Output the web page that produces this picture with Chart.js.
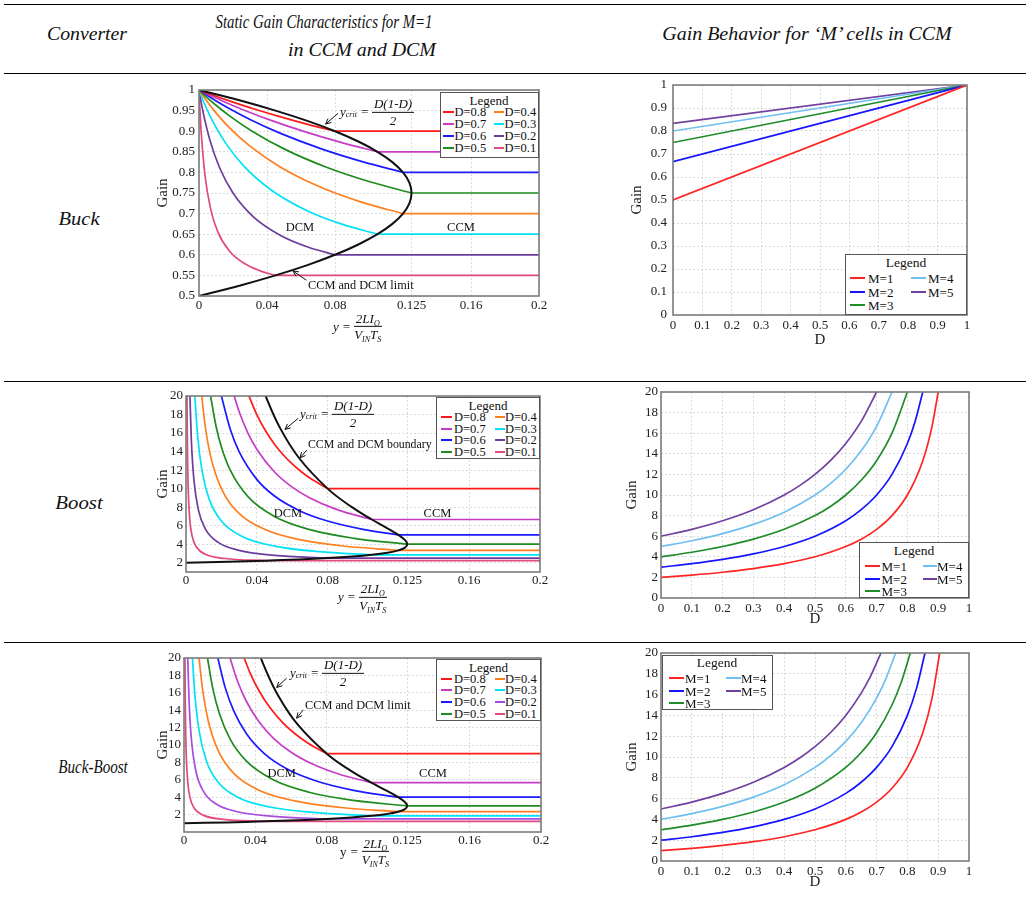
<!DOCTYPE html>
<html><head><meta charset="utf-8">
<script src="https://cdn.jsdelivr.net/npm/chart.js@4.4.1/dist/chart.umd.min.js"></script>
<style>
body{margin:0;background:#fff;}
#page{position:relative;width:1029px;height:904px;overflow:hidden;font-family:'Liberation Serif','Times New Roman',serif;color:#111;background:#fff;}
.hl{position:absolute;left:4px;width:1022px;height:0;border-top:1.4px solid #000;}
.hd{position:absolute;font-style:italic;font-size:19px;white-space:nowrap;transform:translate(-50%,-50%);}
canvas{position:absolute;}
.lg{position:absolute;background:#fff;border:1.3px solid #555;box-sizing:border-box;font-size:13px;}
.lg .tt{position:absolute;left:0;right:0;text-align:center;transform:translateY(-50%);line-height:1;}
.lg .ln{position:absolute;height:2px;transform:translateY(-50%);}
.lg .tx{position:absolute;transform:translateY(-50%);line-height:1;white-space:nowrap;}
.an{position:absolute;white-space:nowrap;font-size:12.3px;line-height:1;transform:translateY(-50%);}
.anc{position:absolute;white-space:nowrap;font-size:12.5px;line-height:1;transform:translate(-50%,-50%);}
.f{position:absolute;display:flex;align-items:center;white-space:nowrap;font-style:italic;font-size:13px;transform:translateY(-50%);line-height:1.05;}
.fr{display:inline-flex;flex-direction:column;align-items:center;margin-left:3px;}
.fr>span:first-child{border-bottom:1px solid #111;padding:0 2px 1px 2px;}
.fr>span:last-child{padding-top:1px;}
.sb{font-size:8px;position:relative;top:3px;}
</style>
</head><body>
<div id="page">
<div class="hl" style="top:4px"></div>
<div class="hl" style="top:73px"></div>
<div class="hl" style="top:381px"></div>
<div class="hl" style="top:642px"></div>
<div class="hd" data-w="80" style="left:87px;top:34px">Converter</div>
<div class="hd" data-w="217" style="left:323.5px;top:22px">Static Gain Characteristics for M=1</div>
<div class="hd" data-w="148" style="left:362px;top:50px">in CCM and DCM</div>
<div class="hd" data-w="289" style="left:806.5px;top:34px">Gain Behavior for ‘M’ cells in CCM</div>
<div class="hd" data-w="41" style="left:78.5px;top:219px">Buck</div>
<div class="hd" data-w="47" style="left:78.5px;top:503px">Boost</div>
<div class="hd" data-w="70" style="left:92.5px;top:767px">Buck-Boost</div>
</div>
<script>
// ---------- labels, ticks, colours ----------
const dLabels = ['D=0.8','D=0.7','D=0.6','D=0.5','D=0.4','D=0.3','D=0.2','D=0.1'];
const mLabels = ['M=1','M=2','M=3','M=4','M=5'];
const dColors = ['#ff1a1a','#c63cc8','#1a1aff','#1f8c1f','#ff7f1f','#00e2f5','#6c3d9c','#e2497c'];
const dColorsBB = ['#ff1a1a','#c63cc8','#1a1aff','#1f8c1f','#ff7f1f','#00e2f5','#a84be0','#e2497c'];
const mColors = ['#ff2424','#1515ff','#1f8c2a','#6fc0f0','#7040a0'];
const xTicksLeft = [0,0.04,0.08,0.125,0.16,0.2];
const yTicksBuckLeft = [0.5,0.55,0.6,0.65,0.7,0.75,0.8,0.85,0.9,0.95,1];
const yTicksGainLeft = [2,4,6,8,10,12,14,16,18,20];
const xTicksRight = [0,0.1,0.2,0.3,0.4,0.5,0.6,0.7,0.8,0.9,1];
const yTicksBuckRight = [0,0.1,0.2,0.3,0.4,0.5,0.6,0.7,0.8,0.9,1];
const yTicksGainRight = [0,2,4,6,8,10,12,14,16,18,20];

// ---------- Buck: static gain vs y (DCM curve then CCM level) ----------
const buck08 = [[0,1],[0.0024,0.9963],[0.0064,0.9902],[0.012,0.9819],[0.02,0.9706],[0.032,0.9545],[0.048,0.9348],[0.064,0.9167],[0.08,0.9],[0.2,0.9]];
const buck07 = [[0,1],[0.00315,0.9937],[0.0084,0.9834],[0.01575,0.9698],[0.02625,0.9516],[0.042,0.9268],[0.063,0.8977],[0.084,0.8723],[0.105,0.85],[0.2,0.85]];
const buck06 = [[0,1],[0.0036,0.9902],[0.0096,0.9747],[0.018,0.9545],[0.03,0.9286],[0.048,0.8947],[0.072,0.8571],[0.096,0.8261],[0.12,0.8],[0.2,0.8]];
const buck05 = [[0,1],[0.00375,0.9854],[0.01,0.963],[0.01875,0.9348],[0.03125,0.9],[0.05,0.8571],[0.075,0.8125],[0.1,0.7778],[0.125,0.75],[0.2,0.75]];
const buck04 = [[0,1],[0.0036,0.9785],[0.0096,0.9464],[0.018,0.9082],[0.03,0.8636],[0.048,0.8125],[0.072,0.7632],[0.096,0.7273],[0.12,0.7],[0.2,0.7]];
const buck03 = [[0,1],[0.00105,0.9886],[0.00315,0.9673],[0.0084,0.9213],[0.01575,0.8704],[0.02625,0.8158],[0.042,0.7586],[0.063,0.7083],[0.084,0.6744],[0.105,0.65],[0.2,0.65]];
const buck02 = [[0,1],[0.0008,0.9808],[0.0024,0.9464],[0.0064,0.8788],[0.012,0.8125],[0.02,0.75],[0.032,0.6923],[0.048,0.6471],[0.064,0.619],[0.08,0.6],[0.2,0.6]];
const buck01 = [[0,1],[0.00045,0.9587],[0.00135,0.8937],[0.0036,0.7907],[0.00675,0.7128],[0.01125,0.6538],[0.018,0.6087],[0.027,0.5781],[0.036,0.561],[0.045,0.55],[0.2,0.55]];
const buckLimit = [[0,0.5],[0.02375,0.525],[0.045,0.55],[0.06375,0.575],[0.08,0.6],[0.09375,0.625],[0.105,0.65],[0.11375,0.675],[0.12,0.7],[0.12375,0.725],[0.125,0.75],[0.12375,0.775],[0.12,0.8],[0.11375,0.825],[0.105,0.85],[0.09375,0.875],[0.08,0.9],[0.06375,0.925],[0.045,0.95],[0.02375,0.975],[0,1]];

// ---------- Boost ----------
const boost08 = [[0.03556,20],[0.04,18],[0.045,16.222],[0.05,14.8],[0.055,13.636],[0.06,12.667],[0.065,11.846],[0.07,11.143],[0.08,10],[0.2,10]];
const boost07 = [[0.02722,20],[0.03,18.333],[0.035,16],[0.04,14.25],[0.05,11.8],[0.06,10.167],[0.07,9],[0.085,7.765],[0.105,6.667],[0.2,6.667]];
const boost06 = [[0.02,20],[0.025,16.4],[0.03,14],[0.04,11],[0.05,9.2],[0.065,7.538],[0.08,6.5],[0.1,5.6],[0.12,5],[0.2,5]];
const boost05 = [[0.01389,20],[0.017,16.706],[0.02,14.5],[0.025,12],[0.035,9.143],[0.05,7],[0.07,5.571],[0.095,4.632],[0.125,4],[0.2,4]];
const boost04 = [[0.00889,20],[0.011,16.545],[0.014,13.429],[0.02,10],[0.03,7.333],[0.045,5.556],[0.065,4.462],[0.09,3.778],[0.12,3.333],[0.2,3.333]];
const boost03 = [[0.005,20],[0.0065,15.846],[0.009,12],[0.013,8.923],[0.02,6.5],[0.032,4.813],[0.05,3.8],[0.075,3.2],[0.105,2.857],[0.2,2.857]];
const boost02 = [[0.00222,20],[0.003,15.333],[0.0045,10.889],[0.007,7.714],[0.011,5.636],[0.018,4.222],[0.03,3.333],[0.05,2.8],[0.08,2.5],[0.2,2.5]];
const boost01 = [[0.00056,20],[0.0008,14.5],[0.0012,10.333],[0.002,7],[0.0035,4.857],[0.006,3.667],[0.011,2.909],[0.022,2.455],[0.045,2.222],[0.2,2.222]];
const boostLimit = [[0,2],[0.02375,2.105],[0.045,2.222],[0.06375,2.353],[0.08,2.5],[0.09375,2.667],[0.105,2.857],[0.11375,3.077],[0.12,3.333],[0.12375,3.636],[0.125,4],[0.12375,4.444],[0.12,5],[0.11375,5.714],[0.105,6.667],[0.09375,8],[0.08,10],[0.06375,13.333],[0.0528,16.667],[0.045,20],[0.04095,22.22]];

// ---------- Buck-Boost ----------
const bb08 = [[0.03368,20],[0.037,18.297],[0.042,16.238],[0.048,14.333],[0.055,12.636],[0.062,11.323],[0.07,10.143],[0.08,9],[0.2,9]];
const bb07 = [[0.02579,20],[0.03,17.333],[0.035,15],[0.042,12.667],[0.05,10.8],[0.06,9.167],[0.072,7.806],[0.087,6.632],[0.105,5.667],[0.2,5.667]];
const bb06 = [[0.01895,20],[0.023,16.652],[0.028,13.857],[0.035,11.286],[0.045,9],[0.058,7.207],[0.075,5.8],[0.095,4.789],[0.12,4],[0.2,4]];
const bb05 = [[0.01316,20],[0.016,16.625],[0.02,13.5],[0.026,10.615],[0.035,8.143],[0.05,6],[0.07,4.571],[0.095,3.632],[0.125,3],[0.2,3]];
const bb04 = [[0.00842,20],[0.0105,16.238],[0.0135,12.852],[0.019,9.421],[0.028,6.714],[0.042,4.81],[0.062,3.581],[0.088,2.818],[0.12,2.333],[0.2,2.333]];
const bb03 = [[0.00474,20],[0.006,16],[0.0085,11.588],[0.0125,8.2],[0.019,5.737],[0.03,4],[0.048,2.875],[0.072,2.25],[0.105,1.857],[0.2,1.857]];
const bb02 = [[0.0021,20],[0.0028,15.286],[0.004,11],[0.0065,7.154],[0.011,4.636],[0.018,3.222],[0.03,2.333],[0.05,1.8],[0.08,1.5],[0.2,1.5]];
const bb01 = [[0.00053,20],[0.0008,13.5],[0.0012,9.333],[0.002,6],[0.0035,3.857],[0.006,2.667],[0.011,1.909],[0.022,1.455],[0.045,1.222],[0.2,1.222]];
const bbLimit = [[0,1],[0.02375,1.105],[0.045,1.222],[0.06375,1.353],[0.08,1.5],[0.09375,1.667],[0.105,1.857],[0.11375,2.077],[0.12,2.333],[0.12375,2.636],[0.125,3],[0.12375,3.444],[0.12,4],[0.11375,4.714],[0.105,5.667],[0.09375,7],[0.08,9],[0.06375,12.333],[0.0528,15.667],[0.045,19],[0.04095,21.22]];

// ---------- Gain vs D for M cells (CCM) ----------
const buckM1 = [[0,0.5],[1,1]];
const buckM2 = [[0,0.6667],[1,1]];
const buckM3 = [[0,0.75],[1,1]];
const buckM4 = [[0,0.8],[1,1]];
const buckM5 = [[0,0.8333],[1,1]];
const boostM1 = [[0,2],[0.1,2.222],[0.2,2.5],[0.3,2.857],[0.4,3.333],[0.5,4],[0.6,5],[0.65,5.714],[0.7,6.667],[0.75,8],[0.8,10],[0.85,13.333],[0.88,16.667],[0.9,20]];
const boostM2 = [[0,3],[0.1,3.333],[0.2,3.75],[0.3,4.286],[0.4,5],[0.5,6],[0.6,7.5],[0.65,8.571],[0.7,10],[0.75,12],[0.8,15],[0.825,17.143],[0.85,20]];
const boostM3 = [[0,4],[0.1,4.444],[0.2,5],[0.3,5.714],[0.4,6.667],[0.5,8],[0.55,8.889],[0.6,10],[0.65,11.429],[0.7,13.333],[0.75,16],[0.8,20]];
const boostM4 = [[0,5],[0.1,5.556],[0.2,6.25],[0.3,7.143],[0.4,8.333],[0.5,10],[0.55,11.111],[0.6,12.5],[0.65,14.286],[0.7,16.667],[0.75,20]];
const boostM5 = [[0,6],[0.1,6.667],[0.2,7.5],[0.3,8.571],[0.4,10],[0.45,10.909],[0.5,12],[0.55,13.333],[0.6,15],[0.65,17.143],[0.7,20]];
const bbM1 = [[0,1],[0.1,1.222],[0.2,1.5],[0.3,1.857],[0.4,2.333],[0.5,3],[0.6,4],[0.65,4.714],[0.7,5.667],[0.75,7],[0.8,9],[0.85,12.333],[0.88,15.667],[0.9048,20]];
const bbM2 = [[0,2],[0.1,2.333],[0.2,2.75],[0.3,3.286],[0.4,4],[0.5,5],[0.6,6.5],[0.65,7.571],[0.7,9],[0.75,11],[0.8,14],[0.83,16.647],[0.8571,20]];
const bbM3 = [[0,3],[0.1,3.444],[0.2,4],[0.3,4.714],[0.4,5.667],[0.5,7],[0.6,9],[0.65,10.429],[0.7,12.333],[0.75,15],[0.78,17.182],[0.8095,20]];
const bbM4 = [[0,4],[0.1,4.556],[0.2,5.25],[0.3,6.143],[0.4,7.333],[0.5,9],[0.55,10.111],[0.6,11.5],[0.65,13.286],[0.7,15.667],[0.73,17.519],[0.7619,20]];
const bbM5 = [[0,5],[0.1,5.667],[0.2,6.5],[0.3,7.571],[0.4,9],[0.45,9.909],[0.5,11],[0.55,12.333],[0.6,14],[0.65,16.143],[0.68,17.75],[0.7143,20]];

// ---------- helpers ----------
const FONT = "'Liberation Serif','Times New Roman',serif";
const GRID = '#d2d2d2';
const page = document.getElementById('page');
const toXY = a => a.map(p => ({x:p[0], y:p[1]}));

function dcmSets(series, colors, limit){
  const ds = [{data:toXY(limit), borderColor:'#111', borderWidth:2, tension:0.4, capBezierPoints:false}];
  series.forEach((s,i)=>{
    const n = s.length;
    ds.push({data:toXY(s.slice(0,n-1)), borderColor:colors[i], cubicInterpolationMode:'monotone'});
    ds.push({data:toXY(s.slice(n-2)), borderColor:colors[i], tension:0});
  });
  return ds;
}
function mSets(series, colors){
  return series.map((s,i)=>({data:toXY(s), borderColor:colors[i], cubicInterpolationMode:'monotone'}));
}
const framePlugin = {id:'frame', afterDraw(chart){
  const a = chart.chartArea, c = chart.ctx;
  c.save(); c.strokeStyle='#7c7c7c'; c.lineWidth=1.6;
  c.strokeRect(a.left, a.top, a.right-a.left, a.bottom-a.top); c.restore();
}};
function arrowPlugin(list){ return {id:'arrows', afterDraw(chart){
  const c = chart.ctx, sx = chart.scales.x, sy = chart.scales.y;
  c.save(); c.strokeStyle='#111'; c.lineWidth=1;
  list.forEach(a=>{
    const x0=sx.getPixelForValue(a[0]), y0=sy.getPixelForValue(a[1]);
    const x1=sx.getPixelForValue(a[2]), y1=sy.getPixelForValue(a[3]);
    const ang=Math.atan2(y1-y0,x1-x0), L=6, w=0.45;
    c.beginPath(); c.moveTo(x0,y0); c.lineTo(x1,y1);
    c.moveTo(x1-L*Math.cos(ang-w), y1-L*Math.sin(ang-w)); c.lineTo(x1,y1);
    c.lineTo(x1-L*Math.cos(ang+w), y1-L*Math.sin(ang+w)); c.stroke();
  });
  c.restore();
}};}

function build(g, datasets, sc, arrows){
  const cw = g.R - g.L + g.W + g.pr, ch = g.B - g.T + g.pt + g.H;
  const cv = document.createElement('canvas');
  cv.width = cw; cv.height = ch;
  cv.style.left = (g.L - g.W)+'px'; cv.style.top = (g.T - g.pt)+'px';
  cv.style.width = cw+'px'; cv.style.height = ch+'px';
  page.appendChild(cv);
  const tickFont = {family:FONT, size:13};
  new Chart(cv, {type:'line', data:{datasets}, options:{
    responsive:false, animation:false, devicePixelRatio:1, events:[],
    layout:{padding:{left:0, right:g.pr, top:g.pt, bottom:0}},
    plugins:{legend:{display:false}, tooltip:{enabled:false}},
    elements:{point:{radius:0}, line:{borderWidth:1.7}},
    scales:{
      x:{type:'linear', position:'bottom', min:sc.xmin, max:sc.xmax,
        afterBuildTicks:s=>{s.ticks = sc.xt.map(v=>({value:v}));},
        afterFit:s=>{s.height=g.H; s.paddingLeft=0; s.paddingRight=0;},
        grid:{color:GRID, lineWidth:0.8, drawTicks:false},
        border:{display:false, dash:[2,2]},
        ticks:{autoSkip:false, maxRotation:0, padding:g.xpad, color:'#222', font:tickFont, callback:v=>String(v)},
        title:{display:!!sc.xtitle, text:sc.xtitle||'', color:'#222', font:{family:FONT,size:15}, padding:{top:0,bottom:g.xtp||0}}
      },
      y:{type:'linear', position:'left', min:sc.ymin, max:sc.ymax,
        afterBuildTicks:s=>{s.ticks = sc.yt.map(v=>({value:v}));},
        afterFit:s=>{s.width=g.W; s.paddingTop=0; s.paddingBottom=0;},
        grid:{color:GRID, lineWidth:0.8, drawTicks:false},
        border:{display:false, dash:[2,2]},
        ticks:{autoSkip:false, padding:g.ypad, color:'#222', font:tickFont, callback:v=>String(v)},
        title:{display:true, text:'Gain', color:'#222', font:{family:FONT,size:15}, padding:{top:g.ytp,bottom:0}}
      }
    }
  }, plugins:[framePlugin, arrowPlugin(arrows||[])]});
}

function legend(box, labels, colors, rows, rowY, titleY, col1, col2, fs){
  const d = document.createElement('div');
  d.className='lg';
  d.style.left=box[0]+'px'; d.style.top=box[1]+'px'; d.style.width=box[2]+'px'; d.style.height=box[3]+'px';
  d.style.fontSize = fs+'px';
  let h = '<div class="tt" style="top:'+titleY+'px;font-size:'+(fs+0.5)+'px">Legend</div>';
  labels.forEach((lab,i)=>{
    const c = i<rows ? col1 : col2, r = i % rows;
    h += '<div class="ln" style="left:'+c[0]+'px;width:'+c[1]+'px;top:'+rowY[r]+'px;background:'+colors[i]+'"></div>';
    h += '<div class="tx" style="left:'+c[2]+'px;top:'+rowY[r]+'px">'+lab+'</div>';
  });
  d.innerHTML = h;
  page.appendChild(d);
}
function add(html){ const t=document.createElement('div'); t.innerHTML=html; while(t.firstChild) page.appendChild(t.firstChild); }
const ycrit = '<i>y</i><span class="sb">crit</span>&nbsp;=<span class="fr"><span>D(1-D)</span><span>2</span></span>';
const yfrac = '=<span class="fr"><span>2<i>LI</i><span class="sb">O</span></span><span><i>V</i><span class="sb">IN</span><i>T</i><span class="sb">S</span></span></span>';

// ---------- charts ----------
build({L:199,R:539,T:90,B:296,W:50,H:25,pt:10,pr:14,xpad:2,ypad:4,ytp:5.3},
  dcmSets([buck08,buck07,buck06,buck05,buck04,buck03,buck02,buck01], dColors, buckLimit),
  {xmin:0,xmax:0.2,ymin:0.5,ymax:1,xt:xTicksLeft,yt:yTicksBuckLeft},
  [[0.0818,0.9434,0.0745,0.9174],[0.0632,0.5382,0.0553,0.5608]]);
build({L:673,R:967,T:85,B:315,W:60,H:35,pt:10,pr:12,xpad:3,ypad:6,ytp:14.7,xtp:1},
  mSets([buckM1,buckM2,buckM3,buckM4,buckM5], mColors),
  {xmin:0,xmax:1,ymin:0,ymax:1,xt:xTicksRight,yt:yTicksBuckRight,xtitle:'D'});
build({L:186,R:540,T:396,B:572,W:50,H:25,pt:10,pr:14,xpad:1,ypad:3,ytp:18.3},
  dcmSets([boost08,boost07,boost06,boost05,boost04,boost03,boost02,boost01], dColors, boostLimit),
  {xmin:0,xmax:0.2,ymin:1,ymax:20,xt:xTicksLeft,yt:yTicksGainLeft},
  [[0.0634,17.59,0.0559,16.39],[0.0682,14.15,0.0644,13.32]]);
build({L:661,R:969,T:392,B:598,W:60,H:35,pt:10,pr:12,xpad:3,ypad:3,ytp:21.7,xtp:5},
  mSets([boostM1,boostM2,boostM3,boostM4,boostM5], mColors),
  {xmin:0,xmax:1,ymin:0,ymax:20,xt:xTicksRight,yt:yTicksGainRight,xtitle:'D'});
build({L:184,R:541,T:658,B:832,W:50,H:25,pt:10,pr:14,xpad:1,ypad:3,ytp:19.7},
  dcmSets([bb08,bb07,bb06,bb05,bb04,bb03,bb02,bb01], dColorsBB, bbLimit),
  {xmin:0,xmax:0.2,ymin:0,ymax:20,xt:xTicksLeft,yt:yTicksGainLeft},
  [[0.0575,17.69,0.0519,16.61],[0.0668,14.04,0.0631,13.08]]);
build({L:661,R:969,T:653,B:861,W:60,H:35,pt:10,pr:12,xpad:3,ypad:3,ytp:21.7,xtp:4.7},
  mSets([bbM1,bbM2,bbM3,bbM4,bbM5], mColors),
  {xmin:0,xmax:1,ymin:0,ymax:20,xt:xTicksRight,yt:yTicksGainRight,xtitle:'D'});

// ---------- legends ----------
legend([439.5,91.5,99,66], dLabels, dColors, 4, [19,31,43.5,55.5], 7.5, [2,11,14], [53,10,64], 12.5);
legend([845,254,122,61], mLabels, mColors, 3, [23,36.5,50], 8, [4,15,22], [65,15,82], 13);
legend([436,396.5,104,62], dLabels, dColors, 4, [19.5,31,42.5,54], 7.5, [4,11,17], [58,10,68], 12.5);
legend([859,542,110,56], mLabels, mColors, 3, [23,35.5,48], 8, [5,15,21.5], [62.5,14.5,77], 13);
legend([436,658.5,105,62.5], dLabels, dColorsBB, 4, [19,30.5,42.5,54.5], 7, [4,11,17], [58,10,68], 12.5);
legend([661.5,655,111,55], mLabels, mColors, 3, [22.3,35,47.3], 7.3, [6.8,14.4,22.5], [63.5,15,78.5], 13);

// ---------- annotations ----------
add('<div class="f" style="left:340px;top:112px">'+ycrit+'</div>');
add('<div class="an" style="left:308px;top:285px">CCM and DCM limit</div>');
add('<div class="anc" style="left:300px;top:227px">DCM</div><div class="anc" style="left:461px;top:227px">CCM</div>');
add('<div class="f" style="left:333px;top:326.5px"><i>y</i>&nbsp;'+yfrac+'</div>');

add('<div class="f" style="left:300px;top:414px">'+ycrit+'</div>');
add('<div class="an" style="left:308px;top:445px;font-size:11.8px">CCM and DCM boundary</div>');
add('<div class="anc" style="left:288px;top:513px">DCM</div><div class="anc" style="left:437.5px;top:513px">CCM</div>');
add('<div class="f" style="left:338px;top:597px"><i>y</i>&nbsp;'+yfrac+'</div>');

add('<div class="f" style="left:290px;top:673px">'+ycrit+'</div>');
add('<div class="an" style="left:305px;top:705px">CCM and DCM limit</div>');
add('<div class="anc" style="left:281.7px;top:773px">DCM</div><div class="anc" style="left:433px;top:773px">CCM</div>');
add('<div class="f" style="left:340px;top:851.5px"><span style="font-style:normal">y</span>&nbsp;'+yfrac+'</div>');

// ---------- fit header text widths ----------
document.querySelectorAll('.hd').forEach(el=>{
  const k = parseFloat(el.dataset.w)/el.offsetWidth;
  el.style.transform = 'translate(-50%,-50%) scaleX('+k.toFixed(3)+')';
});
</script>
</body></html>
